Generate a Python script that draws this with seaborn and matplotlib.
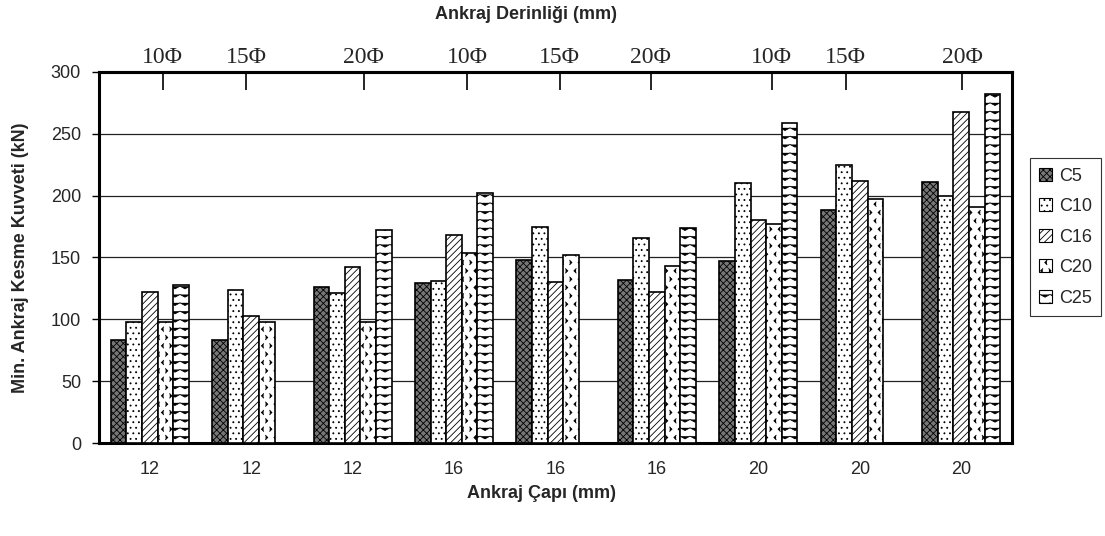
import warnings
import numpy as np
import pandas as pd
import matplotlib
matplotlib.use("Agg")
import matplotlib.pyplot as plt
from matplotlib.patches import Patch
from matplotlib.path import Path
from matplotlib import hatch as mhatch
import seaborn as sns

warnings.filterwarnings("ignore", message=".*hatch must consist.*")

# ---- data -------------------------------------------------------------
diameters = ["12", "12", "12", "16", "16", "16", "20", "20", "20"]
depth_labels = ["10Φ", "15Φ", "20Φ", "10Φ", "15Φ", "20Φ", "10Φ", "15Φ", "20Φ"]
series = ["C5", "C10", "C16", "C20", "C25"]
c5 = [83, 83, 126, 129, 148, 132, 147, 188, 211]
c10 = [98, 124, 121, 131, 175, 166, 210, 225, 200]
c16 = [122, 103, 142, 168, 130, 122, 180, 212, 268]
c20 = [98, 98, 98, 154, 152, 143, 177, 197, 191]
c25 = [128, np.nan, 172, 202, np.nan, 174, 259, np.nan, 282]

# positions of the depth ticks on the upper axis (category units)
depth_tick_pos = [0.13, 0.95, 2.11, 3.13, 4.04, 4.94, 6.13, 6.86, 8.01]


# ---- extra hatch styles: zig-zag rows ('z') and small chevrons ('k') ----
class ZigZagHatch(mhatch.HatchPatternBase):
    def __init__(self, hatch, density):
        self.rows = int(hatch.count("z") * density)
        self.teeth = 10
        self.num_vertices = self.rows * (2 * self.teeth + 1)

    def set_vertices_and_codes(self, vertices, codes):
        n = 2 * self.teeth + 1
        xs = np.linspace(0.0, 1.0, n)
        amp = 0.16 / self.rows
        for r in range(self.rows):
            y0 = (r + 0.5) / self.rows
            ys = y0 + np.where(np.arange(n) % 2 == 0, amp, -amp)
            vertices[r * n:(r + 1) * n, 0] = xs
            vertices[r * n:(r + 1) * n, 1] = ys
            codes[r * n] = Path.MOVETO
            codes[r * n + 1:(r + 1) * n] = Path.LINETO


class ChevronHatch(mhatch.HatchPatternBase):
    def __init__(self, hatch, density):
        self.grid = int(hatch.count("k") * density)
        self.num_vertices = self.grid * self.grid * 3

    def set_vertices_and_codes(self, vertices, codes):
        g = self.grid
        s = 0.26 / g
        i = 0
        for r in range(g):
            for c in range(g):
                cx = (c + 0.5 + 0.5 * (r % 2)) / g % 1.0
                cy = (r + 0.5) / g
                d = 1 if (r + c) % 2 == 0 else -1
                vertices[i] = (cx - d * s * 0.5, cy + s)
                vertices[i + 1] = (cx + d * s * 0.5, cy)
                vertices[i + 2] = (cx - d * s * 0.5, cy - s)
                codes[i] = Path.MOVETO
                codes[i + 1] = Path.LINETO
                codes[i + 2] = Path.LINETO
                i += 3


mhatch._hatch_types.append(ZigZagHatch)
mhatch._hatch_types.append(ChevronHatch)

# ---- styling ------------------------------------------------------------
sns.set_style("white")
plt.rcParams["font.family"] = ["Liberation Sans", "DejaVu Sans"]
plt.rcParams["hatch.linewidth"] = 0.6

faces = ["#777777", "white", "white", "white", "white"]
hatches = ["xxxxx", "...", "/////", "kk", "zz"]

df = pd.DataFrame({
    "group": np.repeat(np.arange(len(diameters)), len(series)),
    "series": series * len(diameters),
    "value": np.column_stack([c5, c10, c16, c20, c25]).ravel(),
})

fig = plt.figure(figsize=(11.05, 5.36), dpi=100)
ax = fig.add_axes([0.0896, 0.1735, 0.8262, 0.6922])

sns.barplot(data=df, x="group", y="value", hue="series", hue_order=series,
            palette=faces, width=0.77, errorbar=None, edgecolor="black",
            linewidth=1.2, legend=False, ax=ax, zorder=3)

for cont, h, fc in zip(ax.containers, hatches, faces):
    for bar in cont:
        bar.set_hatch(h)
        bar.set_facecolor(fc)
        bar.set_edgecolor("black")

ax.set_ylim(0, 300)
ax.set_xlim(-0.5, len(diameters) - 0.5)
ax.set_yticks(np.arange(0, 301, 50))
ax.yaxis.grid(True, color="#222222", linewidth=0.9, zorder=0)
ax.set_axisbelow(True)

ax.set_xticks(np.arange(len(diameters)), labels=diameters)
ax.set_xticks(np.arange(-0.5, len(diameters), 1.0), minor=True)
ax.tick_params(axis="x", which="major", length=0, pad=13, labelsize=13)
ax.tick_params(axis="x", which="minor", length=5, width=1, direction="out",
               color="black")
ax.tick_params(axis="y", length=5, width=1, direction="out", pad=8,
               labelsize=13, color="black", left=True)

for sp in ax.spines.values():
    sp.set_linewidth(2.2)
    sp.set_color("black")

ax.set_xlabel("Ankraj Çapı (mm)", fontsize=13, fontweight="bold")
ax.xaxis.set_label_coords(0.485, -0.112)
ax.set_ylabel("Min. Ankraj Kesme Kuvveti (kN)", fontsize=13, fontweight="bold")
ax.yaxis.set_label_coords(-0.077, 0.5)

# upper axis: anchorage depth
top = ax.secondary_xaxis("top")
top.set_xticks(depth_tick_pos, labels=depth_labels)
top.tick_params(direction="in", length=13, width=1.2, pad=3, color="black")
for lab in top.get_xticklabels():
    lab.set_fontfamily("Liberation Serif")
    lab.set_fontsize(17)
top.spines["top"].set_linewidth(2.2)
ax.text(0.468, 1.154, "Ankraj Derinliği (mm)", transform=ax.transAxes,
        ha="center", va="center", fontsize=13, fontweight="bold")

handles = [Patch(facecolor=fc, edgecolor="black", hatch=h, linewidth=0.8)
           for fc, h in zip(faces, hatches)]
leg = ax.legend(handles, series, loc="center left", bbox_to_anchor=(1.02, 0.555),
                frameon=True, fancybox=False, edgecolor="black", fontsize=13,
                handlelength=0.7, handleheight=0.7, handletextpad=0.4,
                labelspacing=0.75, borderpad=0.5, borderaxespad=0)
leg.get_frame().set_linewidth(0.8)

fig.savefig("out.png", dpi=100)
